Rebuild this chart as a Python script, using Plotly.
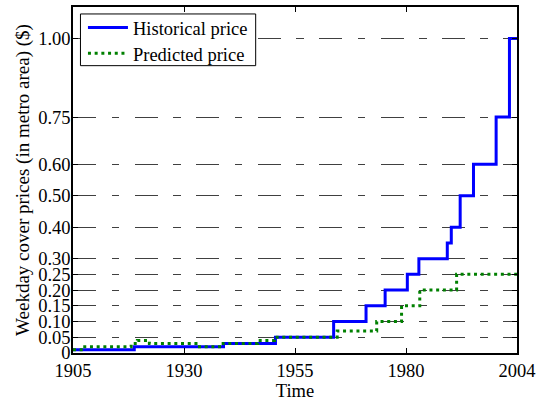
import plotly.graph_objects as go

# Newspaper weekday cover price history vs. model prediction (step series)
hist_year = [1905, 1918.8, 1938.9, 1950.6, 1963.7, 1971.0, 1975.3, 1980.3,
             1982.9, 1989.3, 1990.2, 1992.2, 1995.2, 2000.3, 2003.3, 2005]
hist_price = [0.01, 0.02, 0.03, 0.05, 0.10, 0.15, 0.20, 0.25,
              0.30, 0.35, 0.40, 0.50, 0.60, 0.75, 1.00, 1.00]

pred_year = [1905, 1907.2, 1918.1, 1919.5, 1922.2, 1932.7, 1938.0, 1946.6,
             1950.4, 1964.5, 1973.4, 1979.0, 1983.1, 1991.4, 2005]
pred_price = [0.01, 0.02, 0.03, 0.04, 0.03, 0.02, 0.03, 0.04,
              0.05, 0.07, 0.10, 0.15, 0.20, 0.25, 0.25]

x_tick_vals = [1905, 1930, 1955, 1980, 2005]
x_tick_text = ["1905", "1930", "1955", "1980", "2004"]

y_tick_vals = [0, 0.05, 0.10, 0.15, 0.20, 0.25, 0.30, 0.40, 0.50, 0.60, 0.75, 1.00]
y_tick_text = ["0", "0.05", "0.10", "0.15", "0.20", "0.25", "0.30",
               "0.40", "0.50", "0.60", "0.75", "1.00"]

FONT = "Liberation Serif, Times New Roman, serif"

W, H = 541, 404
M_L, M_R, M_T, M_B = 73, 22, 5, 51
PW, PH = W - M_L - M_R, H - M_T - M_B


def px_x(p):
    return (p - M_L) / PW


def px_y(p):
    return 1 - (p - M_T) / PH


fig = go.Figure()
fig.add_trace(go.Scatter(
    x=hist_year, y=hist_price, mode="lines", name="Historical price",
    line=dict(color="#0000ff", width=3, shape="hv"), legend="legend",
))
fig.add_trace(go.Scatter(
    x=pred_year, y=pred_price, mode="lines", name="Predicted price",
    line=dict(color="#008000", width=3, shape="hv", dash="3px,3.7px"),
    legend="legend2",
))

axis_common = dict(
    showline=True, linecolor="black", linewidth=1.5, mirror="ticks",
    ticks="inside", ticklen=5, tickwidth=1, tickcolor="black",
    zeroline=False,
    tickfont=dict(family=FONT, size=18.5, color="black"),
)

fig.update_xaxes(
    range=[1905, 2005], tickmode="array",
    tickvals=x_tick_vals, ticktext=x_tick_text,
    showgrid=False,
    title=dict(text="Time", font=dict(family=FONT, size=18.5, color="black"),
               standoff=2),
    **axis_common,
)
fig.update_yaxes(
    range=[0, 1.1], tickmode="array",
    tickvals=y_tick_vals, ticktext=y_tick_text,
    showgrid=True, gridcolor="#404040", gridwidth=1,
    griddash="23px,15.5px,7.5px,15.5px",
    ticklabelstandoff=-3,
    title=dict(text="Weekday cover prices (in metro area) ($)",
               font=dict(family=FONT, size=19, color="black"), standoff=4),
    **axis_common,
)

# Framed legend box (white, covers the grid behind it)
fig.add_shape(
    type="rect", xref="paper", yref="paper", layer="above",
    x0=px_x(80.5), x1=px_x(256.5), y0=px_y(64), y1=px_y(12),
    fillcolor="white", line=dict(color="black", width=1),
)

legend_style = dict(
    xanchor="left", yanchor="top",
    bgcolor="rgba(0,0,0,0)", borderwidth=0,
    font=dict(family=FONT, size=18.5, color="black"),
    itemwidth=40,
)

fig.update_layout(
    width=W, height=H,
    margin=dict(l=M_L, r=M_R, t=M_T, b=M_B),
    paper_bgcolor="white", plot_bgcolor="white",
    font=dict(family=FONT, size=18.5, color="black"),
    legend=dict(x=px_x(83), y=px_y(7), **legend_style),
    legend2=dict(x=px_x(83), y=px_y(33), **legend_style),
    showlegend=True,
)

fig.write_html("out.html")
